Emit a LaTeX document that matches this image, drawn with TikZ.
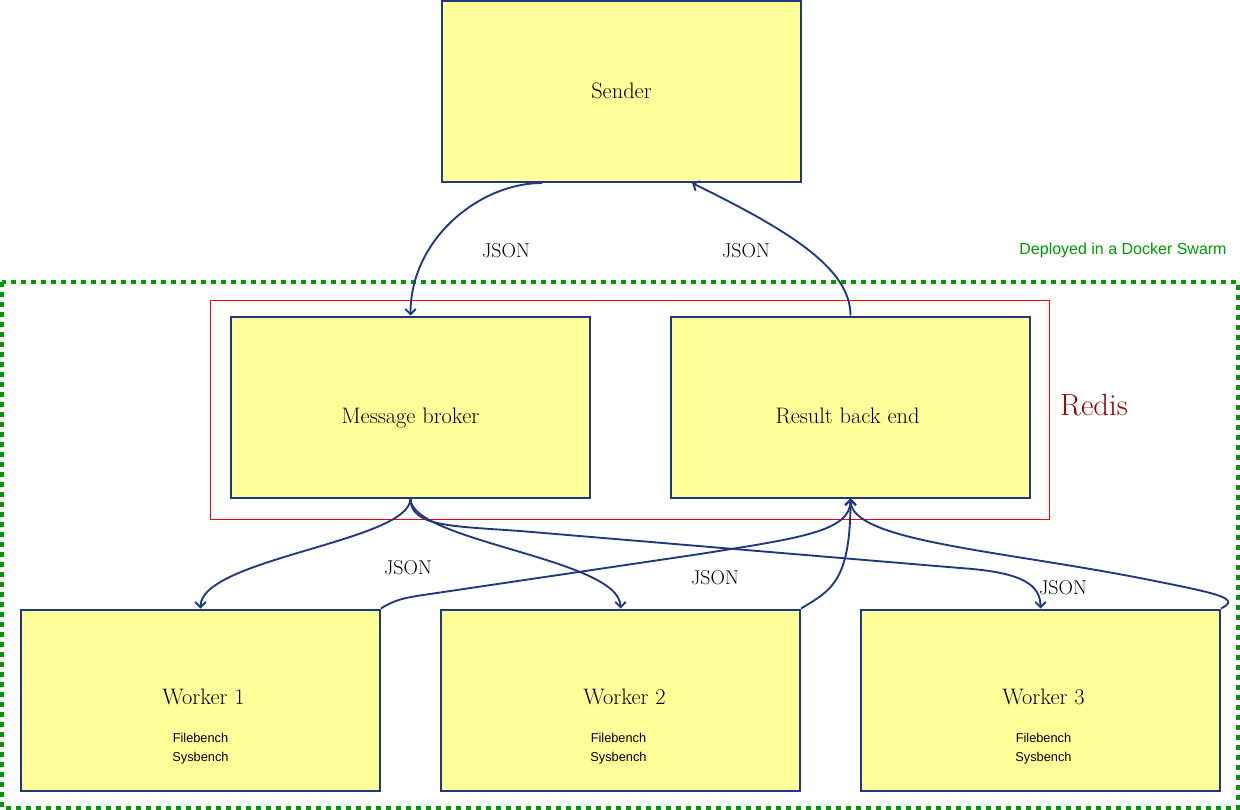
\documentclass[tikz,border=0pt]{standalone}
\usepackage{fontspec}
\setsansfont{Liberation Sans}
\usetikzlibrary{arrows.meta}
\definecolor{edgeblue}{RGB}{31,56,128}
\definecolor{boxfill}{RGB}{255,255,153}
\definecolor{swarmgreen}{RGB}{0,153,0}
\definecolor{redisred}{RGB}{153,0,0}
\begin{document}
\begin{tikzpicture}[x=0.75pt,y=-0.75pt,
  compbox/.style={draw=edgeblue,fill=boxfill,line width=1.5pt,minimum width=359*0.75pt,minimum height=181*0.75pt,inner sep=0pt},
  boxtext/.style={font=\fontsize{16.8}{20}\selectfont,inner sep=0pt,anchor=base},
  smalltext/.style={font=\sffamily\fontsize{9.6}{11}\selectfont,inner sep=0pt},
  jsonlabel/.style={font=\fontsize{15}{18}\selectfont,inner sep=0pt,anchor=base},
  conn/.style={draw=edgeblue,line width=1.4pt,-{Straight Barb[length=4pt,width=8pt]}}
]
\useasboundingbox (0,0) rectangle (1240,810);
% containers
\draw[swarmgreen,line width=3pt,dash pattern=on 3.5pt off 4pt] (2,282) rectangle (1238,808);
\draw[red,line width=0.75pt] (210,300) rectangle (1049,519);
\node[font=\sffamily\fontsize{12}{14}\selectfont,text=swarmgreen,inner sep=0pt] (swarm) at (1123,250) {Deployed in a Docker Swarm};
\node[font=\fontsize{23}{27}\selectfont,text=redisred,inner sep=0pt,anchor=base] (redis) at (1094,415) {Redis};
% boxes
\node[compbox] (sender) at (621.5,91.5) {};
\node[compbox] (mb) at (410.5,407) {};
\node[compbox] (rb) at (850.5,407) {};
\node[compbox] (w1) at (200.5,700) {};
\node[compbox] (w2) at (620.5,700) {};
\node[compbox] (w3) at (1040.5,700) {};
% box texts
\node[boxtext] (tsender) at ([yshift=-6.5*0.75pt]sender.center) {Sender};
\node[boxtext] (tmb) at ([yshift=-16*0.75pt]mb.center) {Message broker};
\node[boxtext] (trb) at ([xshift=-3*0.75pt,yshift=-16*0.75pt]rb.center) {Result back end};
\foreach \w/\n/\dx/\tx in {w1/1/0/3,w2/2/-2/4,w3/3/3/3}{
  \node[boxtext] (t\w) at ([xshift=\tx*0.75pt,yshift=-4*0.75pt]\w.center) {Worker \n};
  \node[smalltext] (fa\w) at ([xshift=\dx*0.75pt,yshift=-38*0.75pt]\w.center) {Filebench};
  \node[smalltext] (fb\w) at ([xshift=\dx*0.75pt,yshift=-58*0.75pt]\w.center) {Sysbench};
}
% connectors
\coordinate (s1) at ([xshift=-79.5*0.75pt]sender.south);
\coordinate (s2) at ([xshift=70.5*0.75pt]sender.south);
\draw[conn] (s1) .. controls +(-62,0) and +(0,-77) .. (mb.north);
\draw[conn] (rb.north) .. controls +(0,-47) and +(98,48) .. (s2);
\draw[conn] (mb.south) .. controls +(0,43) and +(0,-50) .. (w1.north);
\draw[conn] (mb.south) .. controls +(0,43) and +(0,-50) .. (w2.north);
\draw[conn] (mb.south) .. controls +(0,28) and +(-70,-5) .. (520,531) -- (960,568) .. controls +(60,4) and +(0,-25) .. (w3.north);
\draw[conn] (w1.north east) .. controls +(15,-10) and +(-20,3) .. (430,594) -- (700,554) .. controls +(100,-16) and +(0,33) .. (rb.south);
\draw[conn] (w2.north east) .. controls +(30,-18) and +(0,83) .. (rb.south);
\draw[conn] (w3.north east) .. controls +(20,-10) and +(70,14) .. (1150,580) .. controls +(-150,-30) and +(0,43) .. (rb.south);
% labels
\node[jsonlabel] (j1) at (506,257) {JSON};
\node[jsonlabel] (j2) at (746,257) {JSON};
\node[jsonlabel] (j3) at (408,574) {JSON};
\node[jsonlabel] (j4) at (715,584) {JSON};
\node[jsonlabel] (j5) at (1063,594) {JSON};
\end{tikzpicture}
\end{document}
